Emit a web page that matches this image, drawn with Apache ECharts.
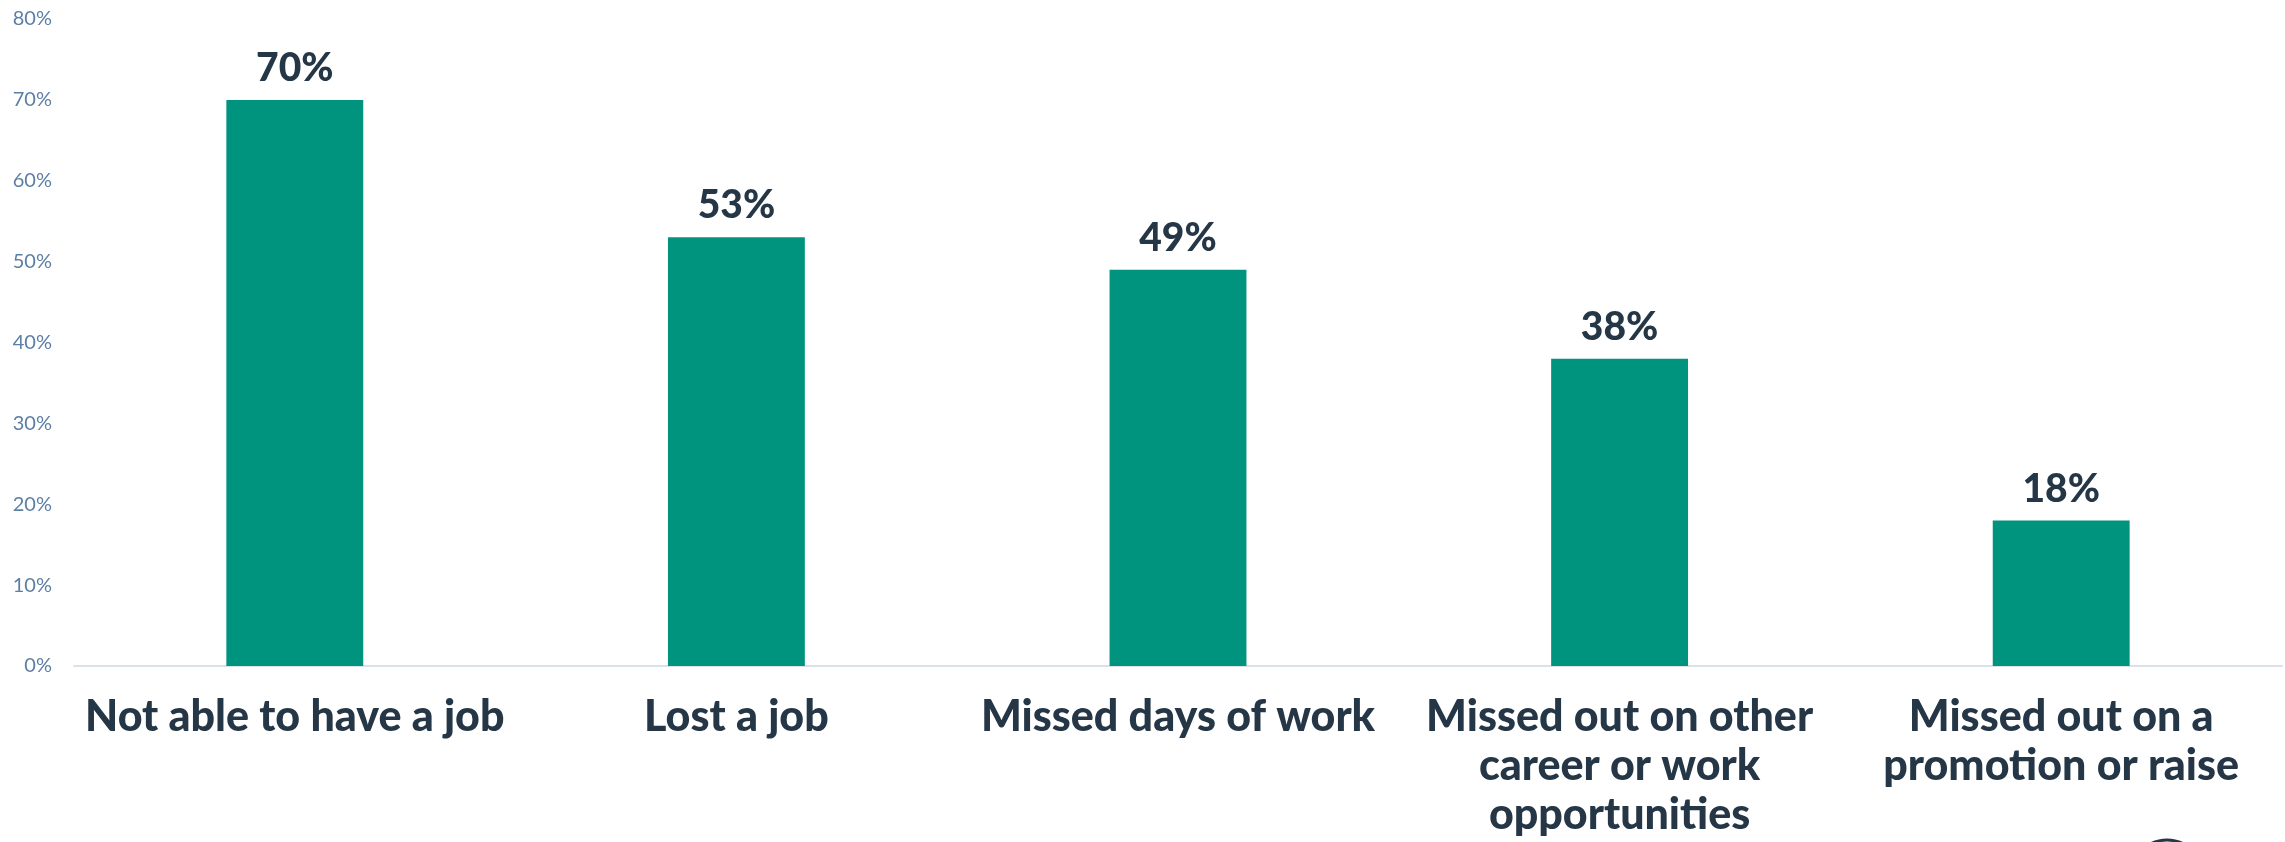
<!DOCTYPE html>
<html>
<head>
<meta charset="utf-8">
<title>Employment impacts</title>
<script src="https://cdn.jsdelivr.net/npm/echarts@6/dist/echarts.min.js"></script>
<style>
  html, body { margin: 0; padding: 0; background: #ffffff; }
  #chart { width: 2285px; height: 842px; }
</style>
</head>
<body>
<div id="chart"></div>
<script>
// Share of respondents reporting each work-related impact (%)
const categories = [
  'Not able to have a job',
  'Lost a job',
  'Missed days of work',
  'Missed out on other\ncareer or work\nopportunities',
  'Missed out on a\npromotion or raise'
];
const values = [70, 53, 49, 38, 18];
const yTicks = [0, 10, 20, 30, 40, 50, 60, 70, 80];

const FONT = 'Lato, "Open Sans", sans-serif';
const DARK = '#253746';
const TEAL = '#00947f';

const chart = echarts.init(document.getElementById('chart'), null, { renderer: 'canvas' });

chart.setOption({
  animation: false,
  grid: { left: 74, right: 3, top: 19, bottom: 176, containLabel: false },
  xAxis: {
    type: 'category',
    data: categories,
    axisLine: { show: true, lineStyle: { color: '#d9e2eb', width: 2 } },
    axisTick: { show: false },
    axisLabel: {
      interval: 0,
      margin: 27,
      color: DARK,
      fontFamily: FONT,
      fontWeight: 900,
      fontSize: 43,
      lineHeight: 49,
      align: 'center'
    }
  },
  yAxis: {
    type: 'value',
    min: yTicks[0],
    max: yTicks[yTicks.length - 1],
    interval: 10,
    axisLine: { show: false },
    axisTick: { show: false },
    splitLine: { show: false },
    axisLabel: {
      margin: 22,
      color: '#5b7fa5',
      fontFamily: FONT,
      fontSize: 20,
      formatter: v => v + '%'
    }
  },
  series: [{
    type: 'bar',
    data: values,
    barWidth: '31%',
    itemStyle: { color: TEAL },
    label: {
      show: true,
      position: 'top',
      distance: 12,
      color: DARK,
      fontFamily: FONT,
      fontWeight: 900,
      fontSize: 39,
      formatter: p => p.value + '%'
    }
  }],
  graphic: [{
    type: 'circle',
    shape: { cx: 2167, cy: 876, r: 36 },
    style: { fill: 'none', stroke: DARK, lineWidth: 3 },
    silent: true
  }]
});
</script>
</body>
</html>
